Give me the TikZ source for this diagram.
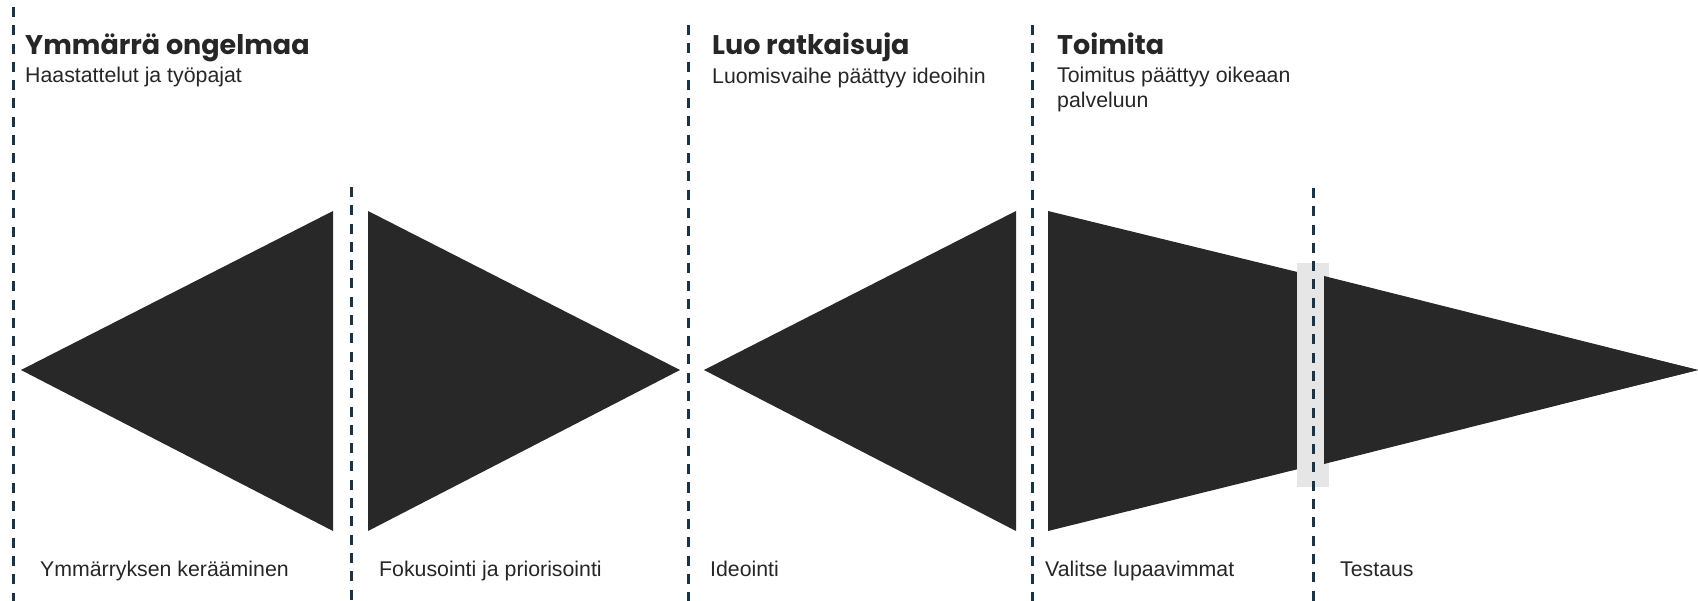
\documentclass[tikz,border=0pt]{standalone}
\usepackage{fontspec}
\setmainfont{Liberation Sans}
\newfontfamily\titlefont{Poppins}
\definecolor{guidec}{HTML}{1B3344}
\definecolor{shapec}{HTML}{282828}
\definecolor{txtc}{HTML}{262626}
\definecolor{bandc}{HTML}{E6E6E6}
\begin{document}
\begin{tikzpicture}[x=1pt,y=-1pt,
  guide/.style={draw=guidec, line width=3pt, dash pattern=on 10pt off 8.3pt},
  funnel/.style={fill=shapec},
  band/.style={fill=bandc},
  ttl/.style={anchor=base west, inner sep=0pt, text=txtc, font=\titlefont\bfseries\fontsize{27}{32}\selectfont},
  sub/.style={anchor=base west, inner sep=0pt, text=txtc, font=\fontsize{21.3}{25}\selectfont},
  lbl/.style={anchor=base west, inner sep=0pt, text=txtc, font=\fontsize{21.3}{25}\selectfont}]
\useasboundingbox (0,0) rectangle (1698,601);
% shapes
\fill[funnel] (21,370) -- (333,211) -- (333,531) -- cycle;
\fill[funnel] (368,211) -- (680,370) -- (368,531) -- cycle;
\fill[funnel] (704,370) -- (1016,211) -- (1016,531) -- cycle;
\fill[funnel] (1048,211) -- (1698,370) -- (1048,531) -- cycle;
\fill[band] (1297,263) rectangle (1329,487);
\fill[funnel] (1324,276) -- (1698,370) -- (1324,464) -- cycle;
% guide lines
\draw[guide] (13,7) -- (13,601);
\draw[guide] (351,187) -- (351,601);
\draw[guide] (688,25) -- (688,601);
\draw[guide] (1032,25) -- (1032,601);
\draw[guide] (1313,188) -- (1313,601);
% titles
\node[ttl] (t1) at (25,55) {Ymmärrä ongelmaa};
\node[sub] (s1) at (25,83) {Haastattelut ja työpajat};
\node[ttl] (t2) at (712,55) {Luo ratkaisuja};
\node[sub] (s2) at (712,84) {Luomisvaihe päättyy ideoihin};
\node[ttl] (t3) at (1057,55) {Toimita};
\node[sub] (s3) at (1057,83) {Toimitus päättyy oikeaan};
\node[sub] (s3b) at (1057,108) {palveluun};
% bottom labels
\node[lbl] (l1) at (40,576) {Ymmärryksen kerääminen};
\node[lbl] (l2) at (379,576) {Fokusointi ja priorisointi};
\node[lbl] (l3) at (710,576) {Ideointi};
\node[lbl] (l4) at (1045,576) {Valitse lupaavimmat};
\node[lbl] (l5) at (1340,576) {Testaus};
\end{tikzpicture}
\end{document}
